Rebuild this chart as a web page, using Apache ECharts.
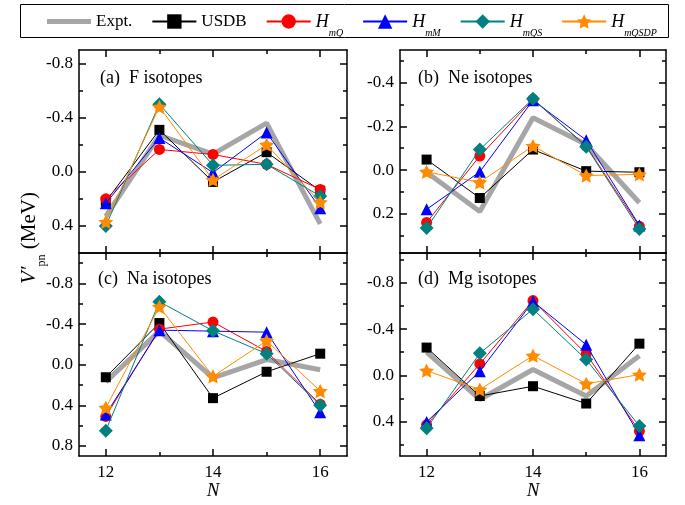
<!DOCTYPE html>
<html>
<head>
<meta charset="utf-8">
<script src="https://cdn.jsdelivr.net/npm/echarts@6/dist/echarts.min.js"></script>
<style>html,body{margin:0;padding:0;background:#fff;}#c{width:685px;height:505px;}</style>
</head>
<body>
<div id="c"></div>
<script>
// ---------- data ----------
const N = [12, 13, 14, 15, 16];
const seriesNames = ['Expt.', 'USDB', 'HmQ', 'HmM', 'HmQS', 'HmQSDP'];
const panelTitles = ['(a)  F isotopes', '(b)  Ne isotopes', '(c)  Na isotopes', '(d)  Mg isotopes'];
const xTickLabels = [12, 14, 16];

// (a) F isotopes
const F_Expt   = [0.33, -0.27, -0.13, -0.36, 0.385];
const F_USDB   = [0.22, -0.31, 0.075, -0.145, 0.14];
const F_HmQ    = [0.20, -0.165, -0.128, -0.055, 0.13];
const F_HmM    = [0.233, -0.25, 0.006, -0.29, 0.27];
const F_HmQS   = [0.40, -0.50, -0.048, -0.055, 0.18];
const F_HmQSDP = [0.37, -0.48, 0.06, -0.20, 0.225];
// (b) Ne isotopes
const Ne_Expt   = [0.01, 0.19, -0.24, -0.117, 0.15];
const Ne_USDB   = [-0.048, 0.128, -0.094, 0.005, 0.01];
const Ne_HmQ    = [0.24, -0.064, -0.324, -0.11, 0.258];
const Ne_HmM    = [0.18, 0.008, -0.32, -0.137, 0.254];
const Ne_HmQS   = [0.266, -0.094, -0.327, -0.107, 0.27];
const Ne_HmQSDP = [0.008, 0.056, -0.11, 0.025, 0.02];
// (c) Na isotopes
const Na_Expt   = [0.17, -0.33, 0.13, -0.05, 0.05];
const Na_USDB   = [0.124, -0.41, 0.33, 0.07, -0.108];
const Na_HmQ    = [0.51, -0.35, -0.42, -0.13, 0.39];
const Na_HmM    = [0.49, -0.34, -0.33, -0.32, 0.47];
const Na_HmQS   = [0.65, -0.62, -0.333, -0.108, 0.40];
const Na_HmQSDP = [0.425, -0.57, 0.115, -0.235, 0.26];
// (d) Mg isotopes
const Mg_Expt   = [-0.20, 0.21, -0.05, 0.18, -0.17];
const Mg_USDB   = [-0.24, 0.18, 0.095, 0.245, -0.274];
const Mg_HmQ    = [0.43, -0.098, -0.648, -0.185, 0.484];
const Mg_HmM    = [0.405, -0.035, -0.64, -0.265, 0.52];
const Mg_HmQS   = [0.46, -0.19, -0.573, -0.136, 0.44];
const Mg_HmQSDP = [-0.04, 0.124, -0.17, 0.074, -0.006];

// y-axis ranges and ticks per panel
const yMin = [-0.9, -0.55, -1.1, -1.06];
const yMax = [0.6, 0.38, 0.9, 0.70];
const yMajor = [[-0.8, -0.4, 0.0, 0.4], [-0.4, -0.2, 0.0, 0.2], [-0.8, -0.4, 0.0, 0.4, 0.8], [-0.8, -0.4, 0.0, 0.4]];
const yMinor = [[-0.6, -0.2, 0.2], [-0.5, -0.3, -0.1, 0.1, 0.3], [-1.0, -0.6, -0.2, 0.2, 0.6], [-1.0, -0.6, -0.2, 0.2, 0.6]];

const panels = [
  [F_Expt, F_USDB, F_HmQ, F_HmM, F_HmQS, F_HmQSDP],
  [Ne_Expt, Ne_USDB, Ne_HmQ, Ne_HmM, Ne_HmQS, Ne_HmQSDP],
  [Na_Expt, Na_USDB, Na_HmQ, Na_HmM, Na_HmQS, Na_HmQSDP],
  [Mg_Expt, Mg_USDB, Mg_HmQ, Mg_HmM, Mg_HmQS, Mg_HmQSDP]
];

// ---------- styles ----------
const FONT = '"Liberation Serif", "Times New Roman", serif';
const STAR = 'path://M0,-10 L2.94,-4.05 L9.51,-3.09 L4.76,1.55 L5.88,8.09 L0,5 L-5.88,8.09 L-4.76,1.55 L-9.51,-3.09 L-2.94,-4.05 Z';
const sStyle = [
  {color: '#a6a6a6', width: 5, symbol: 'none', size: 0},
  {color: '#000000', width: 1, symbol: 'rect', size: 10},
  {color: '#ff0000', width: 1, symbol: 'circle', size: 11},
  {color: '#0000ff', width: 1, symbol: 'triangle', size: 12},
  {color: '#008080', width: 1, symbol: 'diamond', size: 14},
  {color: '#ff8c00', width: 1, symbol: STAR, size: 15}
];

const grids = [
  {left: 79, top: 50, width: 268, height: 203},
  {left: 400, top: 50, width: 266, height: 203},
  {left: 79, top: 253, width: 268, height: 203},
  {left: 400, top: 253, width: 266, height: 203}
];

const LW = 1.5;
const xAxes = [], yAxes = [];
grids.forEach((g, p) => {
  const showX = p >= 2;
  const xb = {type: 'value', gridIndex: p, min: 11.5, max: 16.5, splitLine: {show: false}};
  xAxes.push(Object.assign({}, xb, {position: 'bottom',
    axisLine: {show: true, onZero: false, lineStyle: {color: '#000', width: LW}},
    axisTick: {show: true, inside: true, length: 7, customValues: xTickLabels, lineStyle: {color: '#000', width: LW}},
    axisLabel: {show: showX, customValues: xTickLabels, color: '#000', fontSize: 17, fontFamily: FONT, margin: 8}}));
  xAxes.push(Object.assign({}, xb, {position: 'bottom',
    axisLine: {show: false, onZero: false},
    axisTick: {show: true, inside: true, length: 4, customValues: [13, 15], lineStyle: {color: '#000', width: LW}},
    axisLabel: {show: false}}));
  xAxes.push(Object.assign({}, xb, {position: 'top',
    axisLine: {show: true, onZero: false, lineStyle: {color: '#000', width: LW}},
    axisTick: {show: true, inside: true, length: 7, customValues: xTickLabels, lineStyle: {color: '#000', width: LW}},
    axisLabel: {show: false}}));
  xAxes.push(Object.assign({}, xb, {position: 'top',
    axisLine: {show: false, onZero: false},
    axisTick: {show: true, inside: true, length: 4, customValues: [13, 15], lineStyle: {color: '#000', width: LW}},
    axisLabel: {show: false}}));

  const yb = {type: 'value', gridIndex: p, min: yMin[p], max: yMax[p], inverse: true, splitLine: {show: false}};
  yAxes.push(Object.assign({}, yb, {position: 'left',
    axisLine: {show: true, onZero: false, lineStyle: {color: '#000', width: LW}},
    axisTick: {show: true, inside: true, length: 7, customValues: yMajor[p], lineStyle: {color: '#000', width: LW}},
    axisLabel: {show: true, customValues: yMajor[p], color: '#000', fontSize: 17, fontFamily: FONT, margin: 6,
      formatter: v => (Math.abs(v) < 1e-9 ? 0 : v).toFixed(1)}}));
  yAxes.push(Object.assign({}, yb, {position: 'left',
    axisLine: {show: false, onZero: false},
    axisTick: {show: true, inside: true, length: 4, customValues: yMinor[p], lineStyle: {color: '#000', width: LW}},
    axisLabel: {show: false}}));
  yAxes.push(Object.assign({}, yb, {position: 'right',
    axisLine: {show: true, onZero: false, lineStyle: {color: '#000', width: LW}},
    axisTick: {show: true, inside: true, length: 7, customValues: yMajor[p], lineStyle: {color: '#000', width: LW}},
    axisLabel: {show: false}}));
  yAxes.push(Object.assign({}, yb, {position: 'right',
    axisLine: {show: false, onZero: false},
    axisTick: {show: true, inside: true, length: 4, customValues: yMinor[p], lineStyle: {color: '#000', width: LW}},
    axisLabel: {show: false}}));
});

const series = [];
panels.forEach((arrs, p) => {
  arrs.forEach((arr, k) => {
    const st = sStyle[k];
    series.push({
      type: 'line', name: seriesNames[k],
      xAxisIndex: p * 4, yAxisIndex: p * 4,
      data: N.map((n, i) => [n, arr[i]]),
      symbol: st.symbol, symbolSize: st.size, symbolKeepAspect: true,
      showSymbol: st.symbol !== 'none',
      lineStyle: {color: st.color, width: st.width},
      itemStyle: {color: st.color},
      z: 2 + k, animation: false, silent: true
    });
  });
});

const legendRich = {
  e: {fontSize: 17, fontFamily: FONT, color: '#000', width: 33},
  n: {fontSize: 17, fontFamily: FONT, color: '#000'},
  h: {fontSize: 18, fontFamily: FONT, fontStyle: 'italic', color: '#000', verticalAlign: 'bottom', lineHeight: 20},
  s: {fontSize: 10, fontFamily: FONT, fontStyle: 'italic', color: '#000', verticalAlign: 'bottom', lineHeight: 20, padding: [0, 0, -7, 0]}
};

const graphic = [
  {type: 'rect', shape: {x: 20.5, y: 4.5, width: 648, height: 33}, style: {fill: 'none', stroke: '#000', lineWidth: 1}, z: 0}
];
const titlePos = [[100, 78], [418, 78], [98, 279], [418, 279]];
panelTitles.forEach((t, i) => {
  graphic.push({type: 'text', x: titlePos[i][0], y: titlePos[i][1], style: {text: t, font: '18px ' + FONT, fill: '#000', textVerticalAlign: 'middle'}, z: 10});
});
graphic.push({type: 'text', x: 213, y: 491, style: {text: 'N', font: 'italic 19px ' + FONT, fill: '#000', textAlign: 'center', textVerticalAlign: 'middle'}});
graphic.push({type: 'text', x: 533, y: 491, style: {text: 'N', font: 'italic 19px ' + FONT, fill: '#000', textAlign: 'center', textVerticalAlign: 'middle'}});
graphic.push({type: 'text', x: 28, y: 238, rotation: Math.PI / 2,
  style: {text: '{v|V′}{s|pn}{m| (MeV)}', textAlign: 'center', textVerticalAlign: 'middle',
    rich: {
      v: {font: 'italic 21px ' + FONT, fill: '#000', verticalAlign: 'bottom', lineHeight: 24},
      s: {font: '12px ' + FONT, fill: '#000', verticalAlign: 'bottom', lineHeight: 24, padding: [0, 0, -8, 0]},
      m: {font: '21px ' + FONT, fill: '#000', verticalAlign: 'bottom', lineHeight: 24}
    }}});

const legendData = seriesNames.map((n, k) => k === 0
  ? {name: n, icon: 'path://M0,0 L88,0 L88,10 L0,10 Z', itemStyle: {color: '#a6a6a6'}}
  : {name: n});

const chart = echarts.init(document.getElementById('c'), null, {renderer: 'canvas'});
chart.setOption({
  animation: false,
  backgroundColor: '#fff',
  grid: grids.map(g => Object.assign({containLabel: false}, g)),
  xAxis: xAxes,
  yAxis: yAxes,
  legend: {
    data: legendData, left: 42, top: 8, itemWidth: 44, itemHeight: 18, itemGap: 19,
    selectedMode: false,
    textStyle: {fontSize: 17, fontFamily: FONT, color: '#000', rich: legendRich},
    formatter: name => {
      if (name[0] === 'H') return '{h|H}{s|' + name.slice(1) + '}';
      if (name === 'Expt.') return '{e|' + name + '}';
      return '{n|' + name + '}';
    }
  },
  graphic: graphic,
  series: series
});
</script>
</body>
</html>
